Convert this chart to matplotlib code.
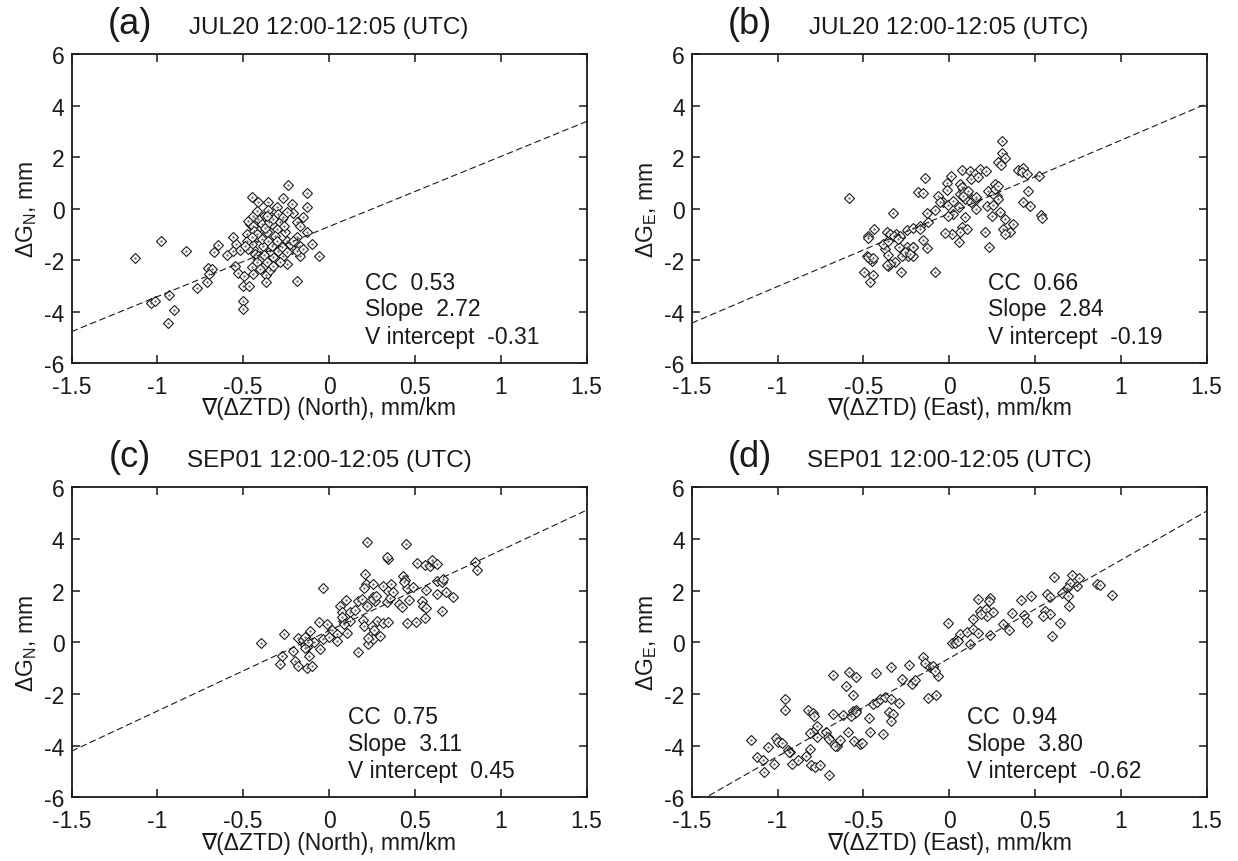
import matplotlib
matplotlib.use('Agg')
import matplotlib.pyplot as plt
import numpy as np

plt.rcParams['font.family'] = ['Liberation Sans', 'DejaVu Sans']
plt.rcParams['axes.unicode_minus'] = False
plt.rcParams['mathtext.fontset'] = 'custom'
plt.rcParams['mathtext.rm'] = 'Liberation Sans'

INK = '#1a1a1a'

# panel (a) JUL20, north gradient
a_x = [-1.130, -0.981, -0.833, -1.039, -1.012, -0.932, -0.903, -0.938, -0.771, -0.709,
       -0.703, -0.682, -0.697, -0.668, -0.645, -0.596, -0.561, -0.561, -0.542, -0.519,
       -0.550, -0.532, -0.493, -0.503, -0.464, -0.499, -0.503, -0.451, -0.412, -0.354,
       -0.270, -0.237, -0.126, -0.218, -0.305, -0.354, -0.130, -0.212, -0.150, -0.185,
       -0.431, -0.383, -0.340, -0.276, -0.460, -0.422, -0.363, -0.305, -0.257, -0.480,
       -0.422, -0.363, -0.315, -0.247, -0.189, -0.102, -0.057, -0.169, -0.218, -0.169,
       -0.266, -0.247, -0.325, -0.402, -0.441, -0.451, -0.383, -0.344, -0.295, -0.422,
       -0.383, -0.451, -0.441, -0.367, -0.344, -0.367, -0.185, -0.480, -0.325, -0.286,
       -0.422, -0.334, -0.295, -0.412,
       -0.470, -0.445, -0.437, -0.412, -0.392, -0.373, -0.348, -0.324, -0.286, -0.270,
       -0.262, -0.422, -0.392, -0.354, -0.334, -0.305, -0.276, -0.247, -0.227, -0.208,
       -0.431, -0.412, -0.392, -0.379, -0.363, -0.422, -0.402, -0.324, -0.286, -0.189,
       -0.150, -0.441, -0.422, -0.363, -0.247, -0.169, -0.130, -0.470, -0.451, -0.489]
a_y = [-1.92, -1.28, -1.64, -3.68, -3.58, -3.36, -3.95, -4.43, -3.07, -2.84,
       -2.31, -2.35, -2.56, -1.68, -1.42, -1.81, -1.64, -1.12, -1.38, -1.61,
       -2.22, -2.52, -2.63, -3.02, -2.99, -3.58, -3.90, 0.43, 0.27, 0.27,
       0.40, 0.91, 0.59, 0.17, 0.05, -0.05, 0.05, -0.17, -0.32, -0.51,
       -0.38, -0.34, -0.34, -0.41, -0.60, -0.80, -0.67, -0.80, -0.90, -0.99,
       -1.12, -0.93, -1.05, -1.25, -1.12, -1.38, -1.83, -1.44, -1.57, -1.83,
       -1.83, -2.16, -1.90, -1.83, -1.57, -1.38, -1.44, -1.64, -1.64, -2.22,
       -2.28, -2.28, -2.54, -2.58, -2.37, -2.87, -2.80, -1.25, -1.38, -1.38,
       -0.54, -0.60, -0.21, -1.96,
       -0.47, -0.67, -0.86, -0.41, -0.60, -0.77, -0.54, -0.41, -0.54, -0.34,
       -0.67, -0.99, -1.18, -1.25, -1.44, -1.25, -1.51, -1.70, -1.38, -1.25,
       -1.77, -1.86, -1.94, -1.81, -2.09, -2.09, -2.35, -2.22, -2.09, -1.64,
       -1.57, -0.28, -0.08, -0.28, -0.15, -0.67, -0.93, -1.57, -1.12, -1.44]

# panel (b) JUL20, east gradient
b_x = [-0.586, -0.326, -0.435, -0.472, -0.472, -0.365, -0.307, -0.287, -0.248, -0.210,
       -0.171, -0.122, -0.132, -0.083, -0.064, -0.035, -0.006, -0.015, 0.008, -0.015,
       -0.180, -0.151, -0.143, 0.076, 0.120, 0.150, 0.179, 0.214, 0.130, 0.169,
       0.062, 0.082, 0.101, 0.062, 0.091, 0.125, 0.159, 0.227, 0.266, 0.276,
       0.256, 0.218, 0.253, 0.247, 0.155, 0.091, 0.058, 0.023, -0.006, 0.072,
       0.101, 0.062, 0.014, -0.025, 0.208, 0.058, 0.233, -0.083, -0.132, -0.151,
       -0.210, -0.248, -0.248, -0.210, -0.239, -0.293, -0.277, -0.316, -0.355, -0.345,
       -0.283, -0.374, -0.355, -0.384, -0.481, -0.452, -0.462, -0.497, -0.443, -0.462,
       -0.355, -0.287,
       0.305, 0.309, 0.325, 0.286, 0.299, 0.402, 0.431, 0.422, 0.451, 0.523,
       0.461, 0.431, 0.470, 0.532, 0.538, 0.296, 0.325, 0.369, 0.315, 0.354, 0.325,
       0.072, 0.086, 0.078, 0.111, 0.266, 0.282, 0.286, -0.345, -0.322, -0.297,
       -0.258, -0.229, -0.472, -0.446, -0.361, -0.210, -0.171, 0.023, -0.054, 0.159]
b_y = [0.41, -0.19, -0.81, -1.05, -1.14, -0.90, -0.99, -1.12, -0.82, -0.77,
       -0.67, -0.54, -0.17, -0.04, 0.47, 0.27, 0.14, 0.98, 1.28, 0.72,
       0.65, 0.60, 1.17, 1.51, 1.44, 1.34, 1.53, 1.47, 1.15, 1.21,
       0.95, 0.76, 0.56, 0.56, 0.37, 0.27, 0.37, 0.69, 0.95, 0.50,
       0.56, 0.08, 0.14, -0.30, -0.02, -0.34, 0.05, -0.21, -0.28, -0.73,
       -0.80, -0.92, -0.99, -0.96, -0.92, -1.31, -1.51, -2.45, -1.55, -1.21,
       -1.48, -1.51, -1.74, -1.83, -1.83, -1.51, -1.83, -2.09, -2.22, -2.15,
       -2.45, -1.57, -1.80, -1.38, -1.86, -2.03, -1.96, -2.48, -2.58, -2.87,
       -1.25, -1.05,
       2.63, 2.14, 1.95, 1.82, 1.69, 1.51, 1.56, 1.40, 1.34, 1.28,
       0.69, 0.24, 0.08, -0.25, -0.38, -0.15, -0.41, -0.60, -0.80, -0.93, -0.99,
       0.82, 0.65, 0.47, 0.69, 0.76, 0.89, 0.37, -0.99, -1.08, -1.18,
       -1.70, -1.77, -1.90, -1.93, -2.19, -1.51, -0.80, 0.30, 0.24, 0.43]

# panel (c) SEP01, north gradient
c_x = [-0.399, -0.261, -0.276, -0.286, -0.199, -0.179, -0.131, -0.098, -0.212, -0.179,
       -0.150, -0.111, -0.140, -0.131, -0.117, -0.088, -0.059, -0.034, -0.053, -0.010,
       0.015, 0.044, 0.044, -0.034, 0.063, 0.098, 0.073, 0.083, 0.106, 0.122,
       0.151, 0.170, 0.199, 0.203, 0.219, 0.209, 0.215, 0.203, 0.254, 0.267,
       0.257, 0.277, 0.248, 0.257, 0.225, 0.166, 0.296, 0.312, 0.358, 0.345,
       0.335, 0.355, 0.374, 0.316, 0.341, 0.409, 0.423, 0.432, 0.442, 0.452,
       0.491, 0.465, 0.452, 0.506, 0.558, 0.539, 0.549, 0.562, 0.562, 0.656,
       0.626, 0.679, 0.720, 0.626, 0.656, 0.665, 0.510, 0.558, 0.588, 0.607,
       0.345, 0.850, 0.860, 0.000, 0.093, 0.122, 0.248, 0.225, 0.263,
       0.22, 0.45, 0.34, 0.60, 0.63,
       -0.140, -0.121, -0.140, 0.073, 0.087, 0.258, 0.273, 0.438, 0.190]
c_y = [-0.03, 0.32, -0.52, -0.84, -0.71, -0.90, -1.01, -0.93, -0.32, 0.15,
       0.10, 0.45, -0.11, -0.20, -0.52, 0.00, 0.80, 0.13, -0.26, 0.71,
       0.49, 0.32, 0.06, 2.09, 1.42, 1.65, 1.16, 0.84, 0.36, 1.16,
       1.26, 1.61, 0.88, 0.64, 1.39, 2.64, 2.26, 2.09, 1.74, 1.61,
       2.26, 0.84, 0.32, 0.13, -0.07, -0.39, 0.23, 2.19, 2.26, 2.00,
       1.55, 1.70, 1.93, 0.75, 0.77, 1.48, 1.35, 2.58, 2.42, 2.09,
       2.13, 1.65, 0.75, 0.80, 0.93, 1.61, 1.42, 1.31, 2.02, 1.22,
       1.87, 1.93, 1.74, 2.39, 2.35, 2.45, 3.07, 2.99, 2.94, 3.09,
       3.22, 3.12, 2.80, 0.19, 0.77, 0.84, 0.64, 0.15, 0.49,
       3.88, 3.80, 3.30, 3.18, 3.05,
       0.19, 0.00, -0.23, 0.97, 0.71, 1.68, 1.78, 2.35, 1.68]

# panel (d) SEP01, east gradient
d_x = [-1.155, -1.122, -1.087, -1.079, -1.054, -1.021, -1.009, -0.996, -0.971, -0.938,
       -0.928, -0.918, -0.879, -0.835, -0.811, -0.802, -0.782, -0.753, -0.699, -0.957,
       -0.957, -0.821, -0.792, -0.788, -0.769, -0.792, -0.811, -0.772, -0.718, -0.705,
       -0.691, -0.656, -0.652, -0.637, -0.679, -0.679, -0.621, -0.592, -0.555, -0.520,
       -0.510, -0.582, -0.544, -0.602, -0.559, -0.559, -0.544, -0.549, -0.569, -0.466,
       -0.462, -0.388, -0.427, -0.446, -0.423, -0.404, -0.375, -0.336, -0.291, -0.349,
       -0.326, -0.336, -0.336, -0.277, -0.233, -0.219, -0.200, -0.151, -0.141, -0.112,
       -0.093, -0.064, -0.122, -0.077, -0.006, 0.014, 0.043, 0.062, 0.101, 0.136,
       0.169, 0.124, 0.136, 0.169, 0.179, 0.214, 0.237, 0.253, 0.218, 0.237, 0.033,
       0.610, 0.713, 0.704, 0.684, 0.669, 0.655, 0.694, 0.700, 0.742, 0.758,
       0.568, 0.587, 0.558, 0.587, 0.544, 0.645, 0.601, 0.475, 0.416, 0.366,
       0.436, 0.451, 0.311, 0.350,
       0.86, 0.88, 0.95, -0.932, -0.699, -0.666, -0.540, -0.097, -0.083, 0.053,
       0.233, 0.185]
d_y = [-3.77, -4.45, -4.56, -5.01, -4.07, -4.71, -3.70, -3.87, -3.90, -4.16,
       -4.26, -4.71, -4.54, -4.41, -4.13, -4.75, -4.84, -4.75, -5.14, -2.20,
       -2.61, -2.61, -2.74, -2.84, -3.23, -3.46, -3.51, -3.65, -3.49, -3.68,
       -3.81, -3.94, -4.03, -3.77, -2.78, -1.27, -2.81, -3.46, -3.81, -3.94,
       -3.90, -1.14, -1.36, -1.68, -2.03, -2.65, -2.61, -2.74, -2.84, -2.94,
       -3.46, -3.55, -1.20, -2.39, -2.32, -2.20, -2.13, -2.20, -2.35, -2.71,
       -2.78, -3.06, -0.97, -1.42, -0.88, -1.61, -1.45, -0.58, -0.80, -0.97,
       -1.01, -1.32, -2.16, -2.04, 0.75, -0.04, 0.13, 0.32, 0.41, 0.51,
       0.36, -0.07, 0.90, 1.68, 1.22, 1.29, 1.70, 1.19, 1.01, 0.28, -0.03,
       2.52, 2.61, 2.30, 2.09, 1.96, 1.91, 1.78, 1.42, 2.19, 2.48,
       1.87, 1.74, 1.23, 1.10, 1.03, 0.75, 0.26, 1.78, 1.65, 1.14,
       1.06, 0.77, 0.71, 0.49,
       2.25, 2.20, 1.85, -4.23, -3.74, -4.00, -2.71, -0.93, -1.10, 0.06,
       1.61, 1.09]

# fitted lines as drawn (slope, intercept) and printed statistics
line_slope = [2.72, 2.84, 3.11, 3.80]
line_icpt = [-0.70, -0.19, 0.45, -0.62]
stat_cc = ['0.53', '0.66', '0.75', '0.94']
stat_slope = ['2.72', '2.84', '3.11', '3.80']
stat_icpt = ['-0.31', '-0.19', '0.45', '-0.62']

panel_tags = ['(a)', '(b)', '(c)', '(d)']
panel_titles = ['JUL20 12:00-12:05 (UTC)', 'JUL20 12:00-12:05 (UTC)',
                'SEP01 12:00-12:05 (UTC)', 'SEP01 12:00-12:05 (UTC)']
ylabels = [r'$\Delta$G$_\mathregular{N}$, mm', r'$\Delta$G$_\mathregular{E}$, mm',
           r'$\Delta$G$_\mathregular{N}$, mm', r'$\Delta$G$_\mathregular{E}$, mm']
xlabels = ['\u2207(\u0394ZTD) (North), mm/km', '\u2207(\u0394ZTD) (East), mm/km',
           '\u2207(\u0394ZTD) (North), mm/km', '\u2207(\u0394ZTD) (East), mm/km']
xticks = [-1.5, -1, -0.5, 0, 0.5, 1, 1.5]
xtick_labels = ['-1.5', '-1', '-0.5', '0', '0.5', '1', '1.5']
yticks = [-6, -4, -2, 0, 2, 4, 6]
ytick_labels = ['-6', '-4', '-2', '0', '2', '4', '6']

xs = [a_x, b_x, c_x, d_x]
ys = [a_y, b_y, c_y, d_y]

fig = plt.figure(figsize=(12.38, 8.62), dpi=100)
rects = [[0.0578, 0.5777, 0.416, 0.3585],
         [0.5587, 0.5777, 0.416, 0.3585],
         [0.0578, 0.0739, 0.416, 0.3596],
         [0.5587, 0.0739, 0.416, 0.3596]]
stat_xpos = [0.57, 0.575, 0.537, 0.535]

for i in range(4):
    ax = fig.add_axes(rects[i])
    ax.plot(xs[i], ys[i], linestyle='none', marker='D', ms=4.6, mfc='white',
            mec=INK, mew=0.8)
    ax.plot(xs[i], ys[i], linestyle='none', marker='.', ms=1.2, color='#555555')
    lx = np.array([-1.5, 1.5])
    ax.plot(lx, line_slope[i] * lx + line_icpt[i], linestyle=(0, (6, 3)),
            color=INK, lw=0.8)
    ax.set_xlim(-1.5, 1.5)
    ax.set_ylim(-6, 6)
    ax.set_xticks(xticks)
    ax.set_xticklabels(xtick_labels)
    ax.set_yticks(yticks)
    ax.set_yticklabels(ytick_labels)
    ax.tick_params(direction='in', top=True, right=True, length=6, width=1.1,
                   labelsize=16.5, colors=INK)
    ax.tick_params(axis='x', pad=8.5)
    ax.tick_params(axis='y', pad=5)
    for s in ax.spines.values():
        s.set_linewidth(1.3)
        s.set_color(INK)
    ax.set_xlabel(xlabels[i], fontsize=16.5, color=INK, labelpad=-1)
    ax.set_ylabel(ylabels[i], fontsize=16.5, color=INK, labelpad=4)
    ax.text(0.113, 1.068, panel_tags[i], transform=ax.transAxes, fontsize=26,
            ha='center', va='baseline', color=INK)
    ax.text(0.5, 1.068, panel_titles[i], transform=ax.transAxes, fontsize=17.5,
            ha='center', va='baseline', color=INK)
    sx = stat_xpos[i]
    ax.text(sx, 0.262, 'CC  ' + stat_cc[i], transform=ax.transAxes,
            fontsize=16.5, va='center', color=INK)
    ax.text(sx, 0.175, 'Slope  ' + stat_slope[i], transform=ax.transAxes,
            fontsize=16.5, va='center', color=INK)
    ax.text(sx, 0.087, 'V intercept  ' + stat_icpt[i], transform=ax.transAxes,
            fontsize=16.5, va='center', color=INK)

fig.savefig('out.png', dpi=100)
